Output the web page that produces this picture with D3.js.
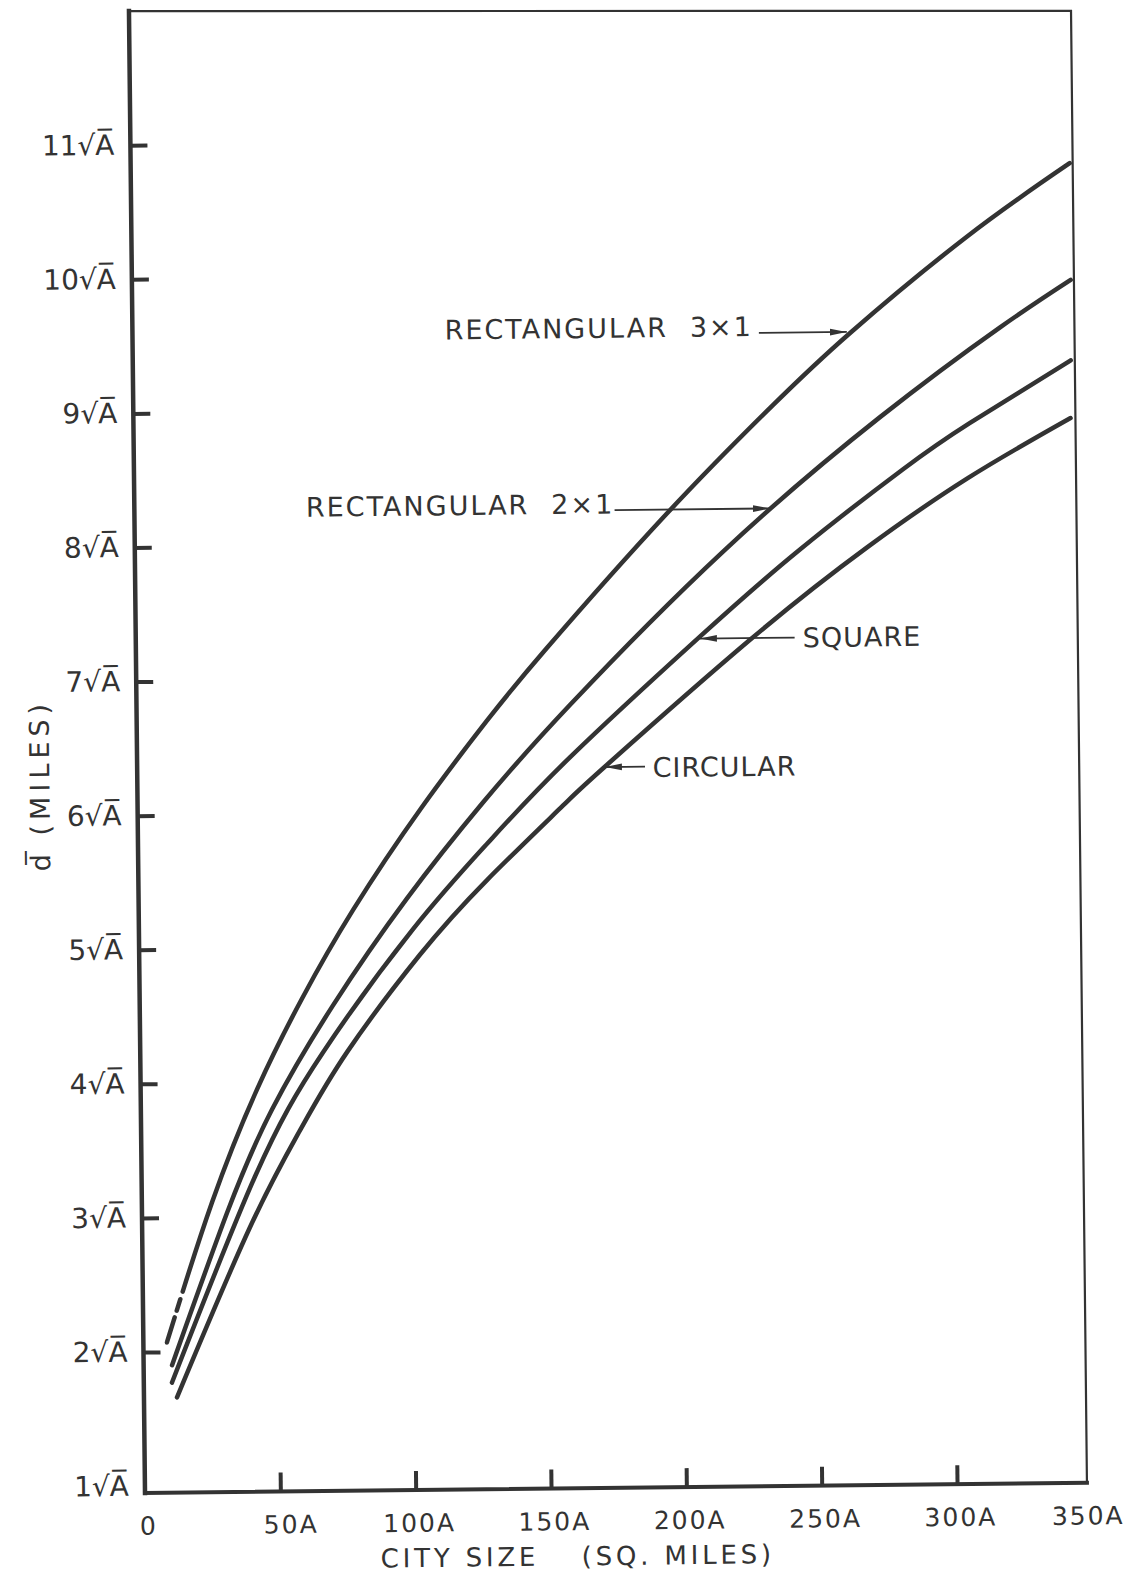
<!DOCTYPE html>
<html>
<head>
<meta charset="utf-8">
<script src="https://cdn.jsdelivr.net/npm/d3@7"></script>
<style>
  html, body { margin: 0; padding: 0; background: #fff; }
  svg { display: block; }
  text { font-family: "DejaVu Sans", sans-serif; fill: #333; }
</style>
</head>
<body>
<svg id="chart" width="1131" height="1579"></svg>
<script>
// ---- axis ticks --------------------------------------------------------
const xTickValues = [0, 50, 100, 150, 200, 250, 300, 350];
const xTickLabels = ["0", "50A", "100A", "150A", "200A", "250A", "300A", "350A"];
const yTickValues = [1, 2, 3, 4, 5, 6, 7, 8, 9, 10, 11];
const yTickLabels = ["1", "2", "3", "4", "5", "6", "7", "8", "9", "10", "11"].map(n => n + "\u221AA\u0305");

// ---- average distance d̄ (in units of √A) versus city size (in units of A sq. miles)
const rect3Size = [8.7, 25.9, 43.0, 59.9, 79.2, 105.0, 129.4, 151.1, 196.7, 236.3, 265.0, 308.6, 346.9];
const rect3Dist = [2.07, 3.11, 3.95, 4.62, 5.28, 6.04, 6.68, 7.20, 8.21, 9.01, 9.54, 10.25, 10.79];

const rect2Size = [10.5, 31.4, 48.5, 71.4, 99.1, 127.6, 160.1, 217.2, 275.7, 320.4, 346.8];
const rect2Dist = [1.90, 3.03, 3.80, 4.57, 5.36, 6.07, 6.79, 7.92, 8.91, 9.57, 9.92];

const squareSize = [10.4, 41.9, 67.5, 101.2, 129.3, 159.9, 208.4, 245.6, 284.0, 308.9, 346.5];
const squareDist = [1.77, 3.30, 4.22, 5.13, 5.77, 6.40, 7.29, 7.93, 8.52, 8.86, 9.32];

const circleSize = [12.2, 39.8, 58.7, 76.4, 103.7, 128.7, 157.1, 173.5, 226.8, 270.4, 308.0, 346.2];
const circleDist = [1.66, 2.92, 3.64, 4.22, 4.94, 5.49, 6.04, 6.34, 7.26, 7.94, 8.45, 8.89];

const seriesNames = ["RECTANGULAR 3\u00D71", "RECTANGULAR 2\u00D71", "SQUARE", "CIRCULAR"];

// ---- callouts: label anchor (size, d̄) and a horizontal arrow from → to at level d̄
const callouts = [
  { name: seriesNames[0], word: "RECTANGULAR", ratio: "3\u00D71", labelAt: [115.3, 9.526], arrowFrom: 231.4, arrowTo: 263.9, arrowAt: 9.55 },
  { name: seriesNames[1], word: "RECTANGULAR", ratio: "2\u00D71", labelAt: [63.4, 8.215],  arrowFrom: 177.4, arrowTo: 234.8, arrowAt: 8.24 },
  { name: seriesNames[2], word: "SQUARE",      ratio: null,       labelAt: [246.4, 7.203], arrowFrom: 243.4, arrowTo: 208.4, arrowAt: 7.275 },
  { name: seriesNames[3], word: "CIRCULAR",    ratio: null,       labelAt: [190.4, 6.246], arrowFrom: 187.6, arrowTo: 172.8, arrowAt: 6.325 }
];

// ---- layout -------------------------------------------------------------
const plotLeft = 145, plotTop = 11, plotW = 942, plotH = 1482;
const ink = "#333";

const svg = d3.select("#chart");
svg.append("rect").attr("width", 1131).attr("height", 1579).attr("fill", "#fff");

svg.append("defs").append("marker")
  .attr("id", "head")
  .attr("markerUnits", "userSpaceOnUse")
  .attr("viewBox", "0 -4 18 8")
  .attr("markerWidth", 18).attr("markerHeight", 8)
  .attr("refX", 17).attr("refY", 0)
  .attr("orient", "auto")
  .append("path").attr("d", "M0,-3.4L17,0L0,3.4Z").attr("fill", ink);

// the whole sheet sits at a slight tilt
const sheet = svg.append("g")
  .attr("transform", `rotate(-0.62, ${plotLeft}, ${plotTop + plotH}) translate(${plotLeft}, ${plotTop})`);

const x = d3.scaleLinear().domain([0, 348]).range([0, plotW]);
const y = d3.scaleLinear().domain([0.949, 12]).range([plotH, 0]);

// ---- axes ---------------------------------------------------------------
const xAxis = sheet.append("g")
  .attr("transform", `translate(0, ${plotH})`)
  .call(d3.axisBottom(x)
    .tickValues(xTickValues)
    .tickFormat((d, i) => xTickLabels[i])
    .tickSize(-19).tickSizeOuter(0).tickPadding(24));
xAxis.select(".domain").remove();
xAxis.selectAll(".tick line")
  .attr("stroke", ink).attr("stroke-width", 4)
  .filter(d => d === 0 || d === 350).remove();
xAxis.selectAll(".tick text")
  .attr("fill", ink).attr("font-size", 25).attr("font-family", "DejaVu Sans")
  .attr("letter-spacing", 2)
  .attr("dx", d => d === 50 ? 10 : d === 350 ? -5 : 3);

const yAxis = sheet.append("g")
  .call(d3.axisLeft(y)
    .tickValues(yTickValues)
    .tickFormat((d, i) => yTickLabels[i])
    .tickSize(-17).tickSizeOuter(0).tickPadding(16));
yAxis.select(".domain").remove();
yAxis.selectAll(".tick line")
  .attr("stroke", ink).attr("stroke-width", 4)
  .filter(d => d === 1).remove();
yAxis.selectAll(".tick text")
  .attr("fill", ink).attr("font-size", 28).attr("font-family", "DejaVu Sans");

// ---- frame (heavy axes, light top and right edges) ----------------------
const frame = sheet.append("g").attr("stroke", ink).attr("stroke-linecap", "square").attr("fill", "none");
frame.append("line").attr("x1", 0).attr("y1", 0).attr("x2", 0).attr("y2", plotH).attr("stroke-width", 4.5);
frame.append("line").attr("x1", 0).attr("y1", plotH).attr("x2", plotW).attr("y2", plotH).attr("stroke-width", 4);
frame.append("polyline")
  .attr("points", `0,0 ${plotW},10 ${plotW},${plotH}`)
  .attr("stroke-width", 2.2);

// ---- curves -------------------------------------------------------------
const series = [
  { name: seriesNames[0], pts: d3.zip(rect3Size, rect3Dist), dash: "26 7 12 8 5000" },
  { name: seriesNames[1], pts: d3.zip(rect2Size, rect2Dist), dash: null },
  { name: seriesNames[2], pts: d3.zip(squareSize, squareDist), dash: null },
  { name: seriesNames[3], pts: d3.zip(circleSize, circleDist), dash: null }
];

const line = d3.line()
  .x(d => x(d[0]))
  .y(d => y(d[1]))
  .curve(d3.curveNatural);

sheet.append("g")
  .selectAll("path")
  .data(series)
  .join("path")
  .attr("d", d => line(d.pts))
  .attr("fill", "none")
  .attr("stroke", ink)
  .attr("stroke-width", 4.5)
  .attr("stroke-linecap", "round")
  .attr("stroke-dasharray", d => d.dash);

// ---- callouts -----------------------------------------------------------
const notes = sheet.append("g");
notes.selectAll("line")
  .data(callouts)
  .join("line")
  .attr("x1", d => x(d.arrowFrom)).attr("x2", d => x(d.arrowTo))
  .attr("y1", d => y(d.arrowAt)).attr("y2", d => y(d.arrowAt))
  .attr("stroke", ink).attr("stroke-width", 1.8)
  .attr("marker-end", "url(#head)");

const labels = notes.selectAll("text")
  .data(callouts)
  .join("text")
  .attr("x", d => x(d.labelAt[0]))
  .attr("y", d => y(d.labelAt[1]))
  .attr("font-size", 27)
  .attr("letter-spacing", d => d.ratio ? 2 : 1)
  .attr("fill", ink);
labels.append("tspan").text(d => d.word);
labels.filter(d => d.ratio).append("tspan").attr("dx", 22).text(d => d.ratio);

// ---- axis titles --------------------------------------------------------
sheet.append("text")
  .attr("transform", `translate(${57 - plotLeft}, ${784 - plotTop}) rotate(-90)`)
  .attr("text-anchor", "middle")
  .attr("font-size", 27)
  .attr("letter-spacing", 5)
  .attr("fill", ink)
  .text("d\u0305 (MILES)");

const xTitle = sheet.append("text")
  .attr("y", plotH + 77)
  .attr("font-size", 26)
  .attr("letter-spacing", 3.8)
  .attr("fill", ink);
xTitle.append("tspan").attr("x", 380 - plotLeft).text("CITY SIZE");
xTitle.append("tspan").attr("x", 581 - plotLeft).text("(SQ. MILES)");
</script>
</body>
</html>
